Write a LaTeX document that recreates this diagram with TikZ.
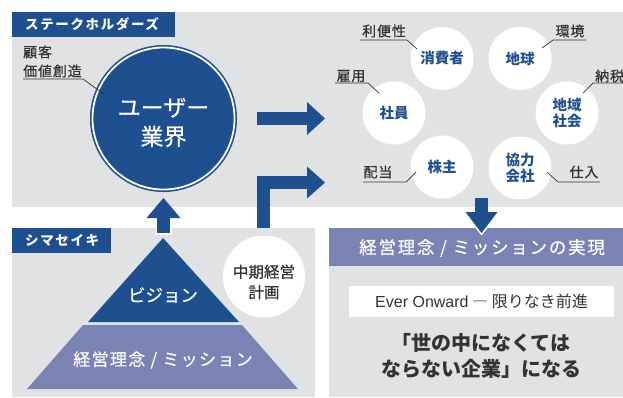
\documentclass[tikz,border=0pt]{standalone}
\usepackage{fontspec}
\setmainfont{Noto Sans CJK JP}
\newfontfamily\latinfont{Liberation Sans}
\usetikzlibrary{arrows.meta}
\definecolor{sblue}{HTML}{1E4F8F}
\definecolor{spurple}{HTML}{7A83B3}
\definecolor{sgray}{HTML}{E1E2E4}
\definecolor{sdark}{HTML}{333333}
\tikzset{
  tag/.style={fill=sblue, text=white, inner sep=0pt, anchor=west,
    font=\bfseries\fontsize{13.5}{15}\selectfont\addfontfeatures{LetterSpace=12}},
  stake/.style={circle, fill=white, minimum size=63pt, inner sep=0pt, text=sblue,
    align=center, font=\bfseries\fontsize{14.5}{16.5}\selectfont},
  note/.style={text=sdark, inner sep=0pt, align=left, font=\fontsize{14}{19}\selectfont\addfontfeatures{LetterSpace=6,FakeBold=0.6}},
  lead/.style={draw=sdark, line width=0.7pt},
  barrow/.style={draw=sblue, line width=13pt},
}
\begin{document}
\begin{tikzpicture}[x=1pt, y=-1pt]
\useasboundingbox (0,0) rectangle (623,397);
\clip (0,0) rectangle (623,397);
\fill[white] (0,0) rectangle (623,397);
% panels
\fill[sgray] (12,12) rectangle (623,207);
\fill[sgray] (12,228) rectangle (315,397);
\fill[sgray] (329,228) rectangle (623,397);
\fill[spurple] (329,228) rectangle (623,266);
% tags
\fill[sblue] (12,12) rectangle (175,37);
\node[tag, fill=none] (tagA) at (25,24.5) {ステークホルダーズ};
\fill[sblue] (12,228) rectangle (111,253);
\node[tag, fill=none] (tagB) at (25,240.5) {シマセイキ};
% big circle
\node[circle, fill=sblue, minimum size=147pt, inner sep=0pt] (user) at (163.5,118.5) {};
\draw[white, line width=1.8pt] (user.center) circle (71);
\node[text=white, align=center, font=\fontsize{23}{29}\selectfont\addfontfeatures{FakeBold=0.5}] (usert) at (163.5,122.5) {ユーザー\\業界};
% note for big circle
\node[note, anchor=west] (nA) at (23,61.5) {顧客\\価値創造};
\coordinate (nA1) at (23,79); \coordinate (nA2) at (83,79); \coordinate (nA3) at (105,95);
\draw[lead] (nA1) -- (nA2) -- (nA3);
% stakeholder circles
\node[stake] (cons) at (442,58.5) {消費者};
\node[stake] (earth) at (520,58.5) {地球};
\node[stake] (emp) at (394,113) {社員};
\node[stake] (comm) at (567,113) {地域\\社会};
\node[stake] (share) at (442,167) {株主};
\node[stake] (supp) at (520,168) {協力\\会社};
% notes
\node[note] (n1) at (384,31) {利便性};
\coordinate (n1a) at (360,40); \coordinate (n1b) at (407,40); \coordinate (n1c) at (417,49);
\draw[lead] (n1a) -- (n1b) -- (n1c);
\node[note] (n2) at (570,31) {環境};
\coordinate (n2a) at (586,40); \coordinate (n2b) at (553,40); \coordinate (n2c) at (542,48);
\draw[lead] (n2a) -- (n2b) -- (n2c);
\node[note] (n3) at (351,76) {雇用};
\coordinate (n3a) at (335,83); \coordinate (n3b) at (368,83); \coordinate (n3c) at (379,93);
\draw[lead] (n3a) -- (n3b) -- (n3c);
\node[note, anchor=west] (n4) at (595,76) {納税};
\coordinate (n4a) at (623,83); \coordinate (n4b) at (593,83); \coordinate (n4c) at (583,93);
\draw[lead] (n4a) -- (n4b) -- (n4c);
\node[note] (n5) at (378,172) {配当};
\coordinate (n5a) at (363,182); \coordinate (n5b) at (406,182); \coordinate (n5c) at (416,172);
\draw[lead] (n5a) -- (n5b) -- (n5c);
\node[note] (n6) at (584,172) {仕入};
\coordinate (n6a) at (600,182); \coordinate (n6b) at (558,182); \coordinate (n6c) at (547,172);
\draw[lead] (n6a) -- (n6b) -- (n6c);
% block arrows
\coordinate (a1s) at (257,118.5); \coordinate (a1e) at (325,118.5);
\draw[barrow, -{Triangle[length=18pt,width=33pt,line width=0pt]}] (a1s) -- (a1e);
\coordinate (a2s) at (263.5,228); \coordinate (a2e) at (325,182.5);
\draw[barrow, -{Triangle[length=18pt,width=32pt,line width=0pt]}] (a2s) |- (a2e);
\coordinate (a3s) at (163.5,233); \coordinate (a3e) at (163.5,198);
\begin{scope}
  \clip (12,228) rectangle (315,240);
  \draw[white, line width=16pt] (163.5,235) -- (163.5,215);
\end{scope}
\draw[barrow, -{Triangle[length=20pt,width=34pt,line width=0pt]}] (a3s) -- (a3e);
\coordinate (a4s) at (481.5,198); \coordinate (a4e) at (481.5,233);
\begin{scope}
  \clip (329,228) rectangle (623,266);
  \draw[white, line width=15pt, -{Triangle[length=22pt,width=36pt,line width=0pt]}] (481.5,196) -- (481.5,235.5);
\end{scope}
\draw[barrow, -{Triangle[length=21pt,width=32pt,line width=0pt]}] (a4s) -- (a4e);
% pyramid
\fill[sblue] (163,238) -- (239,322) -- (88,322) -- cycle;
\fill[spurple] (83,325) -- (242,325) -- (298,389) -- (27,389) -- cycle;
\node[text=white, font=\fontsize{17.5}{20}\selectfont\addfontfeatures{FakeBold=0.5}] (vision) at (163,295) {ビジョン};
\node[text=white, font=\fontsize{17}{20}\selectfont\addfontfeatures{LetterSpace=8,FakeBold=0.5}] (mission) at (163,360) {経営理念 / ミッション};
% plan circle
\node[circle, fill=white, minimum size=82pt, inner sep=0pt] (plan) at (264,276.5) {};
\node[text=sdark, align=center, font=\fontsize{15.5}{20.5}\selectfont\addfontfeatures{FakeBold=0.8}] (plant) at (264,282) {中期経営\\計画};
% right bottom panel
\node[text=white, font=\fontsize{17.5}{20}\selectfont\addfontfeatures{LetterSpace=10,FakeBold=0.5}] (real) at (482,248) {経営理念 / ミッションの実現};
\node[fill=white, minimum width=265pt, minimum height=31pt, inner sep=0pt, text=sdark,
  font=\fontsize{16}{18}\selectfont] (ever) at (481.5,301.5) {{\latinfont Ever Onward} ― 限りなき前進};
\node[text=sdark, align=center, font=\bfseries\fontsize{20}{26}\selectfont] (motto) at (481,356) {「世の中になくては\\ならない企業」になる};
\end{tikzpicture}
\end{document}
